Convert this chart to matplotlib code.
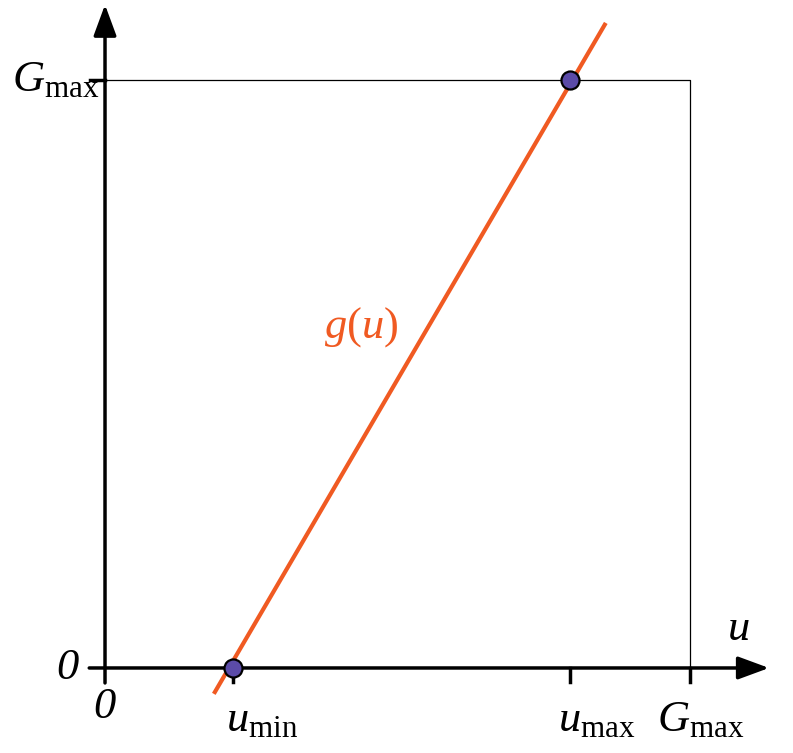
import matplotlib
matplotlib.use("Agg")
import matplotlib.pyplot as plt

plt.rcParams['mathtext.fontset'] = 'custom'
plt.rcParams['mathtext.rm'] = 'Liberation Serif'
plt.rcParams['mathtext.it'] = 'Liberation Serif:italic'
plt.rcParams['font.family'] = 'Liberation Serif'

# values (G_max = 1)
G_max = 1.0
u_min = 0.219
u_max = 0.795
line_u = [0.186, 0.856]    # ends of the g(u) line
line_g = [-0.044, 1.097]
point_u = [u_min, u_max]
point_g = [0.0, G_max]
x_ticks = [u_min, u_max, G_max]
x_tick_labels = [r'$u_{\rm min}$', r'$u_{\rm max}$', r'$G_{\rm max}$']

orange = '#F05A22'
purple = '#5B4BA8'
fs = 32

fig = plt.figure(figsize=(7.93, 7.53), dpi=100)
ax = fig.add_axes([0, 0, 1, 1])
ax.set_xlim(-0.1795, 1.176)
ax.set_ylim(-0.1446, 1.136)
ax.axis('off')

# box at G_max
ax.plot([0, G_max, G_max], [G_max, G_max, 0], color='k', lw=0.9, zorder=1)

# axes with arrows
head = '-|>,head_length=0.95,head_width=0.35'
ax.annotate('', xy=(1.135, 0), xytext=(-0.027, 0),
            arrowprops=dict(arrowstyle=head, mutation_scale=20, lw=2.5,
                            color='k', shrinkA=0, shrinkB=0))
ax.annotate('', xy=(0, 1.128), xytext=(0, -0.0255),
            arrowprops=dict(arrowstyle=head, mutation_scale=20, lw=2.5,
                            color='k', shrinkA=0, shrinkB=0))

# ticks
for xt in x_ticks:
    ax.plot([xt, xt], [0, -0.024], color='k', lw=2.5, zorder=2)
ax.plot([-0.026, 0], [G_max, G_max], color='k', lw=2.5, zorder=2)

# g(u) line and points
ax.plot(line_u, line_g, color=orange, lw=3, solid_capstyle='butt', zorder=3)
ax.plot(point_u, point_g, 'o', ms=13, mfc=purple, mec='k', mew=1.6, zorder=4)

# labels
for xt, lab, dx in zip(x_ticks, x_tick_labels, [-0.012, -0.020, -0.056]):
    ax.text(xt + dx, -0.107, lab, fontsize=fs, ha='left', va='baseline')
ax.text(-0.001, -0.066, '0', fontsize=fs, style='italic', ha='center', va='center')
ax.text(-0.046, 0, '0', fontsize=fs, style='italic', ha='right', va='center')
ax.text(-0.009, G_max, r'$G_{\rm max}$', fontsize=fs, ha='right', va='center')
ax.text(1.082, 0.048, r'$u$', fontsize=fs, ha='center', va='baseline')
ax.text(0.438, 0.58, r'$g(u)$', fontsize=fs, color=orange, ha='center', va='center')

fig.savefig('out.png', dpi=100)
